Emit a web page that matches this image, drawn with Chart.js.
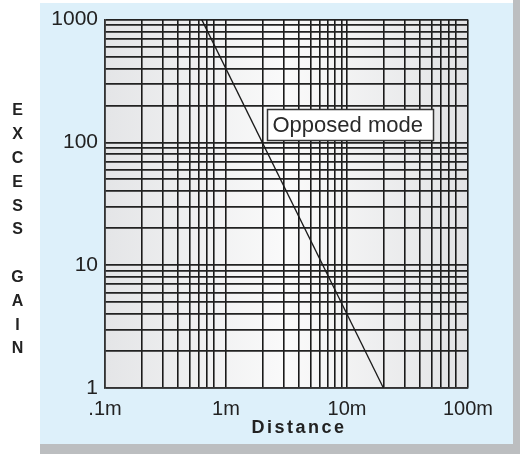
<!DOCTYPE html>
<html>
<head>
<meta charset="utf-8">
<script src="https://cdn.jsdelivr.net/npm/chart.js@4.4.1/dist/chart.umd.min.js"></script>
<style>
  html, body { margin: 0; padding: 0; background: #ffffff; }
  #wrap { width: 520px; height: 454px; }
</style>
</head>
<body>
<div id="wrap"><canvas id="c" width="520" height="454"></canvas></div>
<script>
// ---- data ----
const distance = [0.63, 20];          // metres
const excessGain = [1000, 1];
const seriesLabel = 'Opposed mode';
const xTitle = 'Distance';
const yTitle = 'EXCESS GAIN';
const xTickValues = [0.1,0.2,0.3,0.4,0.5,0.6,0.7,0.8,1,2,3,4,5,6,7,8,9,10,20,30,40,50,60,70,80,100];
const yTickValues = [1,2,3,4,5,6,7,8,9,10,20,30,40,50,60,70,80,90,100,200,300,400,500,600,700,800,900,1000];
const xTickLabels = {0.1: '.1m', 1: '1m', 10: '10m', 100: '100m'};
const yTickLabels = {1: '1', 10: '10', 100: '100', 1000: '1000'};
const labelAnchor = {x: 2.18, y: 186};

const FONT = "'Liberation Sans', Arial, sans-serif";

const bgPlugin = {
  id: 'bg',
  beforeDraw(chart) {
    const ctx = chart.ctx;
    const a = chart.chartArea;
    ctx.save();
    ctx.fillStyle = '#bcbec0';
    ctx.fillRect(40, 0, 480, 454);
    ctx.fillStyle = '#ffffff';
    ctx.fillRect(40, 0, 473, 3);
    ctx.fillStyle = '#ddf0fa';
    ctx.fillRect(40, 3, 473, 441);
    const g = ctx.createLinearGradient(a.left, 0, a.right, 0);
    g.addColorStop(0, '#e4e5e7');
    g.addColorStop(0.5, '#fafafa');
    g.addColorStop(1, '#e2e3e5');
    ctx.fillStyle = g;
    ctx.fillRect(a.left, a.top, a.right - a.left, a.bottom - a.top);
    ctx.restore();
  },
  afterDraw(chart) {
    const ctx = chart.ctx;
    const xs = chart.scales.x, ys = chart.scales.y;
    ctx.save();
    // annotation box
    ctx.font = '22px ' + FONT;
    const tw = ctx.measureText(seriesLabel).width;
    const bx = Math.round(xs.getPixelForValue(labelAnchor.x)) + 0.5;
    const by = Math.round(ys.getPixelForValue(labelAnchor.y)) + 0.5;
    const bw = Math.round(tw + 16), bh = 31;
    ctx.fillStyle = '#ffffff';
    ctx.fillRect(bx, by, bw, bh);
    ctx.strokeStyle = '#333333';
    ctx.lineWidth = 1.5;
    ctx.strokeRect(bx, by, bw, bh);
    ctx.fillStyle = '#2a2a2a';
    ctx.textAlign = 'left';
    ctx.textBaseline = 'middle';
    ctx.fillText(seriesLabel, bx + 5, by + bh / 2 + 1);
    // x title
    ctx.font = 'bold 18px ' + FONT;
    ctx.fillStyle = '#222222';
    ctx.textAlign = 'center';
    ctx.textBaseline = 'middle';
    try { ctx.letterSpacing = '2.5px'; } catch (e) {}
    ctx.fillText(xTitle, 299, 428);
    try { ctx.letterSpacing = '0px'; } catch (e) {}
    // y title (stacked letters)
    ctx.font = 'bold 16px ' + FONT;
    let yy = 111;
    for (const ch of yTitle) {
      if (ch !== ' ') ctx.fillText(ch, 17.5, yy);
      yy += 23.8;
    }
    ctx.restore();
  }
};

new Chart(document.getElementById('c'), {
  type: 'scatter',
  data: {
    datasets: [{
      label: seriesLabel,
      data: distance.map((d, i) => ({x: d, y: excessGain[i]})),
      showLine: true,
      borderColor: '#1a1a1a',
      borderWidth: 1.3,
      pointRadius: 0,
      fill: false
    }]
  },
  options: {
    responsive: false,
    animation: false,
    events: [],
    layout: { padding: { left: 0, top: 18, right: 52, bottom: 0 } },
    plugins: { legend: { display: false }, tooltip: { enabled: false } },
    scales: {
      x: {
        type: 'logarithmic',
        min: 0.1, max: 100,
        afterBuildTicks(s) { s.ticks = xTickValues.map(v => ({value: v})); },
        afterFit(s) { s.height = 66; },
        grid: { color: '#1a1a1a', lineWidth: 1.6, drawTicks: false },
        border: { color: '#333333', width: 1.5 },
        ticks: {
          autoSkip: false, maxRotation: 0, padding: 9,
          color: '#222222',
          font: { family: FONT, size: 20 },
          callback: (v) => xTickLabels[v] ?? ''
        }
      },
      y: {
        type: 'logarithmic',
        min: 1, max: 1000,
        afterBuildTicks(s) { s.ticks = yTickValues.map(v => ({value: v})); },
        afterFit(s) { s.width = 105; },
        grid: { color: '#222222', lineWidth: 1.8, drawTicks: false },
        border: { color: '#333333', width: 1.5 },
        ticks: {
          autoSkip: false, padding: 7,
          color: '#222222',
          font: { family: FONT, size: 21 },
          callback: (v) => yTickLabels[v] ?? ''
        }
      }
    }
  },
  plugins: [bgPlugin]
});
</script>
</body>
</html>
